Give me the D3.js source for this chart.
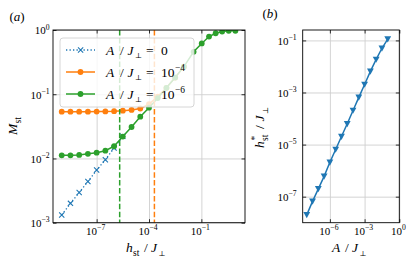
<!DOCTYPE html>
<html><head><meta charset="utf-8">
<script src="https://cdn.jsdelivr.net/npm/d3@7"></script>
<style>
body{margin:0;background:#fff;}
svg{display:block;}
text{font-family:"Liberation Serif","DejaVu Serif",serif;white-space:pre;}
</style></head><body>
<svg id="c" width="415" height="265"></svg>
<script>
// ---------- data ----------
// panel (a): staggered field h_st/J_perp
const hBlue   = [1e-9, 3.16e-9, 1e-8, 3.16e-8, 1e-7, 3.16e-7, 1e-6, 3.16e-6];
const mBlue   = [0.00132, 0.0020, 0.00295, 0.00437, 0.0066, 0.00955, 0.0145, 0.0222];
const hOrange = [1e-9, 3.16e-9, 1e-8, 3.16e-8, 1e-7, 3.16e-7, 1e-6, 3.16e-6, 1e-5, 3.16e-5, 1e-4, 3.16e-4, 1e-3, 3.16e-3, 1e-2];
const mOrange = [0.0535, 0.0535, 0.0535, 0.0536, 0.0537, 0.054, 0.0545, 0.0555, 0.057, 0.060, 0.070, 0.092, 0.126, 0.182, 0.269];
const hGreen  = [1e-9, 3.16e-9, 1e-8, 3.16e-8, 1e-7, 3.16e-7, 1e-6, 3.16e-6, 1e-5, 3.16e-5, 1e-4, 3.16e-4, 1e-3, 3.16e-3, 1e-2, 3.6e-2, 0.105, 0.275, 0.66, 1.55, 3.7, 8.9];
const mGreen  = [0.0112, 0.0112, 0.01135, 0.0118, 0.0123, 0.0132, 0.0155, 0.0219, 0.0309, 0.0447, 0.0617, 0.087, 0.126, 0.182, 0.269, 0.457, 0.617, 0.79, 0.89, 0.944, 0.97, 0.97];
const critH   = [2.09e-6, 2.04e-4];          // dashed lines (green: A=1e-6, orange: A=1e-4)
const seriesNames = ["0", "10^-4", "10^-6"];
// panel (b): critical field vs A
const aVals = [1e-8, 3.16e-8, 1e-7, 3.16e-7, 1e-6, 3.16e-6, 1e-5, 3.16e-5, 1e-4, 3.16e-4, 1e-3, 3.16e-3, 1e-2, 3.16e-2, 1e-1];
const hStar = [2.0e-8, 6.6e-8, 2.0e-7, 6.0e-7, 2.09e-6, 6.5e-6, 2.04e-5, 6.3e-5, 2.04e-4, 6.5e-4, 2.04e-3, 6.5e-3, 1.86e-2, 5.0e-2, 0.112];
// ticks (exponents)
const xTicksA = [-7, -4, -1];
const yTicksA = [0, -1, -2, -3];
const xTicksB = [-6, -3, 0];
const yTicksB = [-1, -3, -5, -7];

const C = {blue:"#1f77b4", orange:"#ff7f0e", green:"#2ca02c"};
const svg = d3.select("#c");

function mathText(sel, parts, size){
  let cur = 0;
  parts.forEach(p=>{
    const target = p.sub ? 0.28*size : p.sup ? -0.42*size : 0;
    const ts = sel.append("tspan").text(p.t).attr("dy", target-cur);
    cur = target;
    if(p.it) ts.attr("font-style","italic");
    if(p.sub||p.sup) ts.attr("font-size", (size*(p.sc||0.7)).toFixed(2));
  });
}
function mathAbs(sel, parts, size){
  parts.forEach(p=>{
    const yy = p.sub ? 0.28*size : p.sup ? -0.42*size : 0;
    const ts = sel.append("tspan").text(p.t).attr("x", p.o).attr("y", yy);
    if(p.it) ts.attr("font-style","italic");
    if(p.sub||p.sup) ts.attr("font-size", (size*(p.sc||0.7)).toFixed(2));
  });
}
function powParts(e){ return [{t:"10"},{t:(e<0?"\u2212":"")+Math.abs(e), sup:true}]; }

function panel(o){
  const x = d3.scaleLog().domain(o.xd).range([o.L, o.R]);
  const y = d3.scaleLog().domain(o.yd).range([o.B, o.T]);
  const W = o.R-o.L, H = o.B-o.T;
  const grid = svg.append("g").attr("class","grid");
  grid.append("g").attr("transform",`translate(0,${o.B})`)
    .call(d3.axisBottom(x).tickValues(o.xt.map(e=>10**e)).tickSize(-H).tickFormat(""));
  grid.append("g").attr("transform",`translate(${o.L},0)`)
    .call(d3.axisLeft(y).tickValues(o.yt.map(e=>10**e)).tickSize(-W).tickFormat(""));
  grid.selectAll(".domain").remove();
  grid.selectAll("line").attr("stroke","#cfcfcf").attr("stroke-width",0.9);
  return {x,y};
}
function frame(o, x, y, ylabPad){
  const g = svg.append("g");
  const ti = 3.5, fs = 11;
  const bx = g.append("g").attr("transform",`translate(0,${o.B})`)
    .call(d3.axisBottom(x).tickValues(o.xt.map(e=>10**e)).tickSizeInner(-ti).tickSizeOuter(0).tickFormat(""));
  g.append("g").attr("transform",`translate(0,${o.T})`)
    .call(d3.axisTop(x).tickValues(o.xt.map(e=>10**e)).tickSizeInner(-ti).tickSizeOuter(0).tickFormat(""));
  const ly = g.append("g").attr("transform",`translate(${o.L},0)`)
    .call(d3.axisLeft(y).tickValues(o.yt.map(e=>10**e)).tickSizeInner(-ti).tickSizeOuter(0).tickFormat(""));
  g.append("g").attr("transform",`translate(${o.R},0)`)
    .call(d3.axisRight(y).tickValues(o.yt.map(e=>10**e)).tickSizeInner(-ti).tickSizeOuter(0).tickFormat(""));
  g.selectAll(".domain").remove();
  g.selectAll("line").attr("stroke","#000").attr("stroke-width",0.8);
  bx.selectAll(".tick text").each(function(d){
    const t = d3.select(this).text(null).attr("x",-1.5).attr("y",12).attr("dy",null)
      .attr("font-size",fs).attr("fill","#000").attr("text-anchor","middle");
    mathText(t, powParts(Math.round(Math.log10(d))), fs);
  });
  ly.selectAll(".tick text").each(function(d){
    const t = d3.select(this).text(null).attr("x",-ylabPad).attr("y",3.8).attr("dy",null)
      .attr("font-size",fs).attr("fill","#000").attr("text-anchor","end");
    mathText(t, powParts(Math.round(Math.log10(d))), fs);
  });
  g.append("rect").attr("x",o.L).attr("y",o.T).attr("width",o.R-o.L).attr("height",o.B-o.T)
    .attr("fill","none").attr("stroke","#000").attr("stroke-width",0.9);
}

// ---------- panel (a) ----------
const oa = {L:53, R:245, T:30, B:222.7, xd:[10**-9.5, 10**1.5], yd:[1e-3, 1], xt:xTicksA, yt:yTicksA};
const A = panel(oa);
const line = (x,y)=>d3.line().x(d=>x(d[0])).y(d=>y(d[1]));
svg.append("clipPath").attr("id","ca").append("rect")
  .attr("x",oa.L).attr("y",oa.T).attr("width",oa.R-oa.L).attr("height",oa.B-oa.T);
const ga = svg.append("g").attr("clip-path","url(#ca)");
const blueD = hBlue.map((h,i)=>[h,mBlue[i]]);
const orangeD = hOrange.map((h,i)=>[h,mOrange[i]]);
const greenD = hGreen.map((h,i)=>[h,mGreen[i]]);
const lfA = line(A.x, A.y);
function crosses(gr, data, x, y, col, s){
  gr.selectAll(null).data(data).join("path")
    .attr("d", d=>{const cx=x(d[0]), cy=y(d[1]); return `M${cx-s},${cy-s}L${cx+s},${cy+s}M${cx-s},${cy+s}L${cx+s},${cy-s}`;})
    .attr("stroke",col).attr("stroke-width",1.1).attr("fill","none");
}
function dots(gr, data, x, y, col, r){
  gr.selectAll(null).data(data).join("circle")
    .attr("cx",d=>x(d[0])).attr("cy",d=>y(d[1])).attr("r",r).attr("fill",col);
}
ga.append("path").attr("d",lfA(blueD)).attr("fill","none").attr("stroke",C.blue)
  .attr("stroke-width",1.3).attr("stroke-dasharray","1.3,2.2");
crosses(ga.append("g"), blueD, A.x, A.y, C.blue, 2.6);
ga.append("path").attr("d",lfA(orangeD)).attr("fill","none").attr("stroke",C.orange).attr("stroke-width",1.5);
dots(ga.append("g"), orangeD, A.x, A.y, C.orange, 2.9);
ga.append("path").attr("d",lfA(greenD)).attr("fill","none").attr("stroke",C.green).attr("stroke-width",1.5);
dots(ga.append("g"), greenD, A.x, A.y, C.green, 2.9);
ga.selectAll(null).data(critH).join("line")
  .attr("x1",d=>A.x(d)).attr("x2",d=>A.x(d)).attr("y1",oa.T).attr("y2",oa.B)
  .attr("stroke",(d,i)=>i===0?C.green:C.orange).attr("stroke-width",1.5)
  .attr("stroke-dasharray","5.5,2.4");
// legend
const lg = svg.append("g");
lg.append("rect").attr("x",60).attr("y",38).attr("width",134).attr("height",69).attr("rx",3)
  .attr("fill","#fff").attr("fill-opacity",0.8).attr("stroke","#cccccc").attr("stroke-width",0.8);
const legRows = [50, 72, 94];
const legCols = [C.blue, C.orange, C.green];
const fsLeg = 13.5;
seriesNames.forEach((nm,i)=>{
  const yy = legRows[i];
  const ln = lg.append("line").attr("x1",66).attr("x2",95).attr("y1",yy).attr("y2",yy)
    .attr("stroke",legCols[i]).attr("stroke-width",i===0?1.3:1.5);
  if(i===0){ ln.attr("stroke-dasharray","1.3,2.2");
    lg.append("path").attr("d",`M78,${yy-2.6}L83.2,${yy+2.6}M78,${yy+2.6}L83.2,${yy-2.6}`)
      .attr("stroke",C.blue).attr("stroke-width",1.1);
  } else {
    lg.append("circle").attr("cx",80.5).attr("cy",yy).attr("r",2.9).attr("fill",legCols[i]);
  }
  const t = lg.append("text").attr("transform",`translate(106,${yy+4.6})`).attr("font-size",fsLeg).attr("fill","#000");
  const parts = [{t:"A",it:true,o:0},{t:"/",o:14},{t:"J",it:true,o:21.5},{t:"\u22A5",sub:true,sc:0.55,o:29}];
  if(nm==="0") parts.push({t:"=",o:40},{t:"0",o:55});
  else { const e = nm.split("^")[1]; parts.push({t:"=",o:40},{t:"10",o:55},{t:e.replace("-","\u2212"),sup:true,o:69}); }
  mathAbs(t, parts, fsLeg);
});
frame(oa, A.x, A.y, 3.3);

// ---------- panel (b) ----------
const ob = {L:302.7, R:399.3, T:30, B:222.7, xd:[10**-8.35, 1], yd:[1e-8, 10**-0.6], xt:xTicksB, yt:yTicksB};
const Bp = panel(ob);
const bD = aVals.map((a,i)=>[a,hStar[i]]);
svg.append("path").attr("d",line(Bp.x,Bp.y)(bD)).attr("fill","none").attr("stroke",C.blue).attr("stroke-width",1.5);
svg.append("g").selectAll(null).data(bD).join("path")
  .attr("d",d=>{const cx=Bp.x(d[0]), cy=Bp.y(d[1]); return `M${cx-3.4},${cy-2.8}L${cx+3.4},${cy-2.8}L${cx},${cy+3.4}Z`;})
  .attr("fill",C.blue);
frame(ob, Bp.x, Bp.y, 6);

// ---------- labels ----------
const fsL = 13.5;
mathAbs(svg.append("text").attr("transform","translate(126,252)").attr("font-size",fsL),
  [{t:"h",it:true,o:0},{t:"st",sub:true,o:7},{t:"/",o:18},{t:"J",it:true,o:25},{t:"\u22A5",sub:true,sc:0.55,o:32.5}], fsL);
mathAbs(svg.append("text").attr("transform","translate(332,252)").attr("font-size",fsL),
  [{t:"A",it:true,o:0},{t:"/",o:13},{t:"J",it:true,o:20},{t:"\u22A5",sub:true,sc:0.55,o:27.5}], fsL);
mathAbs(svg.append("text").attr("transform","translate(17,135) rotate(-90)").attr("font-size",fsL),
  [{t:"M",it:true,o:0},{t:"st",sub:true,o:11.5}], fsL);
mathAbs(svg.append("text").attr("transform","translate(264,148) rotate(-90)").attr("font-size",fsL),
  [{t:"h",it:true,o:0},{t:"*",sup:true,o:7.5},{t:"st",sub:true,o:7},{t:"/",o:19},{t:"J",it:true,o:26.5},{t:"\u22A5",sub:true,sc:0.55,o:34}], fsL);
mathText(svg.append("text").attr("x",17).attr("y",21).attr("font-size",13).attr("text-anchor","middle"),
  [{t:"("},{t:"a",it:true},{t:")"}], 13);
mathText(svg.append("text").attr("x",270).attr("y",18).attr("font-size",13).attr("text-anchor","middle"),
  [{t:"("},{t:"b",it:true},{t:")"}], 13);
</script>
</body></html>
